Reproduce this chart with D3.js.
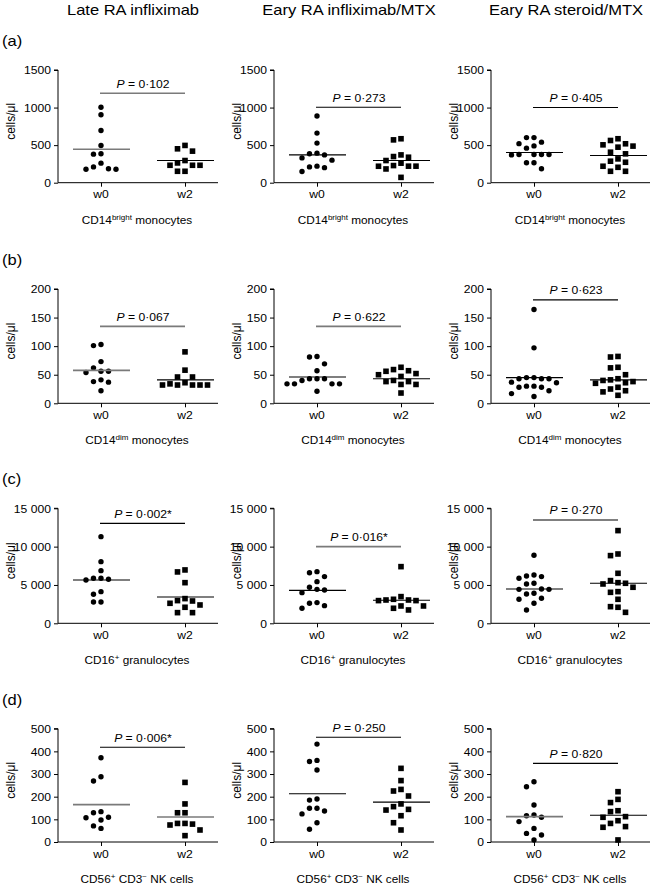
<!DOCTYPE html>
<html><head><meta charset="utf-8">
<script src="https://cdn.jsdelivr.net/npm/d3@7"></script>
<style>
body{margin:0;background:#fff}
svg{display:block}
text{font-family:"Liberation Sans",Arial,Helvetica,sans-serif;fill:#000}
</style>
</head><body>
<svg id="chart" width="650" height="887"></svg>
<script>
// ---------- labels ----------
const columnTitles = ["Late RA infliximab", "Eary RA infliximab/MTX", "Eary RA steroid/MTX"];
const rowLetters = ["(a)", "(b)", "(c)", "(d)"];
const groups = ["w0", "w2"];
const cellTypeLabels = [
  [["CD14", 0], ["bright", 1], [" monocytes", 0]],
  [["CD14", 0], ["dim", 1], [" monocytes", 0]],
  [["CD16", 0], ["+", 1], [" granulocytes", 0]],
  [["CD56", 0], ["+", 1], [" CD3", 0], ["\u2212", 1], [" NK cells", 0]]
];
const yAxisTitle = "cells/\u03bcl";
const yDomainMax = [1500, 200, 15000, 500];
const yTickValues = [[0, 500, 1000, 1500], [0, 50, 100, 150, 200], [0, 5000, 10000, 15000], [0, 100, 200, 300, 400, 500]];
const yTickLabels = [["0", "500", "1000", "1500"], ["0", "50", "100", "150", "200"], ["0", "5 000", "10 000", "15 000"], ["0", "100", "200", "300", "400", "500"]];
const pValueLabels = [
  ["0\u00b7102", "0\u00b7273", "0\u00b7405"],
  ["0\u00b7067", "0\u00b7622", "0\u00b7623"],
  ["0\u00b7002*", "0\u00b7016*", "0\u00b7270"],
  ["0\u00b7006*", "0\u00b7250", "0\u00b7820"]
];
const pBarLevels = [[1190, 1005, 1000], [134.6, 134.6, 181], [13040, 10000, 13480], [418, 462, 347]];

// ---------- data (cells/µl) ----------
const a1w0 = [1005, 905, 695, 495, 385, 380, 260, 180, 180, 185, 210];
const a1w2 = [496, 420, 451, 295, 232, 232, 263, 232, 152, 152];
const a2w0 = [888, 660, 527, 393, 385, 370, 330, 300, 220, 210, 200, 150];
const a2w2 = [585, 570, 370, 348, 339, 295, 260, 228, 220, 219, 183, 220, 71];
const a3w0 = [600, 600, 540, 520, 490, 460, 375, 375, 370, 375, 375, 265, 265, 185];
const a3w2 = [585, 562, 518, 487, 473, 504, 384, 406, 286, 317, 272, 219, 205, 152, 152];
const b1w0 = [103, 101, 73, 62, 56, 54, 56, 38, 37, 41, 22];
const b1w2 = [90, 58, 46, 46, 36, 32, 32, 32, 32, 32, 34];
const b2w0 = [82, 81, 69, 57, 43, 43, 34, 34, 34, 34, 40, 43, 21];
const b2w2 = [63, 59, 57, 56, 52, 50, 47, 40, 38, 38, 33, 33, 18];
const b3w0 = [164, 97, 45, 43, 43, 43, 45, 37, 30, 28, 28, 30, 36, 22, 12, 17];
const b3w2 = [82, 81, 63, 62, 50, 43, 40, 36, 35, 38, 41, 28, 25, 22, 20, 14];
const c1w0 = [11300, 8040, 6870, 5870, 5650, 5740, 5870, 4130, 3780, 2780, 2780];
const c1w2 = [6960, 6700, 5300, 2960, 2610, 2390, 2910, 3220, 2090, 1390, 1390];
const c2w0 = [6600, 6740, 6090, 5430, 4700, 4430, 4350, 4000, 2700, 2610, 2300, 1960];
const c2w2 = [7390, 3480, 2960, 3040, 2960, 3040, 3130, 2260, 1740, 1960, 2260];
const c3w0 = [8870, 6300, 6170, 5870, 6090, 5220, 5130, 4430, 4430, 4480, 3830, 3910, 3130, 3260, 2610, 1740];
const c3w2 = [12090, 9040, 8830, 6520, 5570, 5130, 5220, 5300, 4130, 4040, 4700, 3130, 2170, 2090, 1430];
const d1w0 = [372, 288, 269, 129, 134, 109, 97, 107, 60, 71];
const d1w2 = [263, 168, 129, 129, 82, 75, 82, 79, 53, 28];
const d2w0 = [432, 360, 355, 318, 185, 190, 149, 149, 137, 124, 85, 56];
const d2w2 = [325, 271, 225, 232, 203, 156, 168, 141, 144, 116, 85, 53];
const d3w0 = [266, 244, 163, 119, 109, 116, 90, 60, 38, 31, 9];
const d3w2 = [222, 174, 188, 134, 138, 112, 109, 94, 82, 68, 65, 9];

// group means (horizontal lines)
const meansA = [[446, 295], [370, 295], [402, 362]];
const meansB = [[57.6, 41], [46, 43], [45, 41]];
const meansC = [[5650, 3430], [4300, 3000], [4480, 5220]];
const meansD = [[165, 110], [213, 176], [112, 118]];

const panelData = [
  [[a1w0, a1w2], [a2w0, a2w2], [a3w0, a3w2]],
  [[b1w0, b1w2], [b2w0, b2w2], [b3w0, b3w2]],
  [[c1w0, c1w2], [c2w0, c2w2], [c3w0, c3w2]],
  [[d1w0, d1w2], [d2w0, d2w2], [d3w0, d3w2]]
];
const panelMeans = [meansA, meansB, meansC, meansD];

// ---------- layout / style ----------
const SX = 1.18;                       // horizontal text stretch of the original
const colAxisX = [58, 274, 491];
const rowTop = [70, 289, 508.3, 728.7];
const rowBottom = [182.7, 403.3, 623.3, 842];
const yLabelOffset = [43, 33, 33];
const greyLines = new Set(["0-0-bar", "0-0-w0", "1-0-bar", "1-0-w0", "1-1-bar", "2-1-bar", "3-0-w0", "3-0-w2", "3-2-w0"]);

const svg = d3.select("#chart");

function stext(g, x, y, anchor, size) {
  return g.append("text")
    .attr("transform", `translate(${x},${y}) scale(${SX},1)`)
    .attr("text-anchor", anchor)
    .attr("font-size", size);
}

function swarm(vals, y, d) {
  const order = vals.map((v, i) => i).sort((a, b) => vals[b] - vals[a]);
  const placed = [];
  const offs = new Array(vals.length).fill(0);
  for (const i of order) {
    const yi = y(vals[i]);
    for (let k = 0; k < 60; k++) {
      const off = k === 0 ? 0 : (k % 2 ? -Math.ceil(k / 2) * d : Math.ceil(k / 2) * d);
      if (placed.every(p => (p.x - off) ** 2 + (p.y - yi) ** 2 >= d * d)) {
        offs[i] = off; placed.push({x: off, y: yi}); break;
      }
    }
  }
  return offs;
}

// column titles
columnTitles.forEach((t, c) => {
  const mid = colAxisX[c] + 85 - 10;
  stext(svg, mid, 15, "middle", 14).text(t);
});

rowLetters.forEach((letter, r) => {
  stext(svg, 2, rowTop[r] - 24, "start", 14).text(letter);

  const y = d3.scaleLinear().domain([0, yDomainMax[r]]).range([rowBottom[r], rowTop[r]]);

  for (let c = 0; c < 3; c++) {
    const ax = colAxisX[c];
    const x = d3.scalePoint().domain(groups).range([ax + 43, ax + 127]);
    const g = svg.append("g");

    // y axis
    const yAxis = d3.axisLeft(y).tickValues(yTickValues[r])
      .tickFormat((d, i) => yTickLabels[r][i]).tickSize(4).tickPadding(3);
    const ya = g.append("g").attr("transform", `translate(${ax},0)`).call(yAxis);
    ya.select(".domain").attr("d", `M-4,${rowTop[r]}H0V${rowBottom[r]}`).attr("stroke", "#000");
    ya.selectAll(".tick line").attr("stroke", "#000");
    ya.selectAll(".tick text").each(function () {
      const t = d3.select(this);
      t.attr("font-size", 10.3).attr("font-family", null).attr("fill", "#000")
        .attr("x", null).attr("dy", null)
        .attr("transform", `translate(-7,3.7) scale(${SX},1)`);
    });
    ya.attr("font-family", null).attr("font-size", null);

    // x axis
    const xAxis = d3.axisBottom(x).tickSize(4).tickFormat(() => "");
    const xa = g.append("g").attr("transform", `translate(0,${rowBottom[r]})`).call(xAxis);
    xa.select(".domain").attr("d", `M${ax},0H${ax + 160}`).attr("stroke", "#000");
    xa.selectAll(".tick line").attr("stroke", "#000");
    groups.forEach(gr => stext(g, x(gr), rowBottom[r] + 15.5, "middle", 10.3).text(gr));

    // y axis title
    g.append("text")
      .attr("transform", `translate(${ax - yLabelOffset[c]},${(rowTop[r] + rowBottom[r]) / 2 - 5}) rotate(-90)`)
      .attr("text-anchor", "middle").attr("font-size", 12).text(yAxisTitle);

    // subtitle with superscripts
    const st = stext(g, (x("w0") + x("w2")) / 2 - 6, rowBottom[r] + 41, "middle", 10);
    let raised = false;
    cellTypeLabels[r].forEach(([s, sup]) => {
      const shift = sup ? (raised ? 0 : -4) : (raised ? 4 : 0);
      st.append("tspan").attr("font-size", sup ? 6.8 : 10)
        .attr("dy", shift).text(s);
      raised = !!sup;
    });

    // points
    groups.forEach((gr, gi) => {
      const vals = panelData[r][c][gi];
      const offs = swarm(vals, y, 7.5);
      if (gi === 0) {
        g.selectAll(null).data(vals).join("circle")
          .attr("cx", (d, i) => x(gr) + offs[i]).attr("cy", d => y(d))
          .attr("r", 2.7).attr("fill", "#000");
      } else {
        g.selectAll(null).data(vals).join("rect")
          .attr("x", (d, i) => x(gr) + offs[i] - 2.8).attr("y", d => y(d) - 2.8)
          .attr("width", 5.6).attr("height", 5.6).attr("fill", "#000");
      }
      // mean line
      const m = panelMeans[r][c][gi];
      const grey = greyLines.has(`${r}-${c}-${gr}`);
      g.append("line")
        .attr("x1", x(gr) - 28).attr("x2", x(gr) + 29)
        .attr("y1", y(m)).attr("y2", y(m))
        .attr("stroke", grey ? "#7a7a7a" : "#000").attr("stroke-width", grey ? 1.6 : 1.1);
    });

    // P bar
    const pb = y(pBarLevels[r][c]);
    const greyBar = greyLines.has(`${r}-${c}-bar`);
    g.append("line").attr("x1", x("w0") - 1).attr("x2", x("w2"))
      .attr("y1", pb).attr("y2", pb)
      .attr("stroke", greyBar ? "#7a7a7a" : "#000").attr("stroke-width", greyBar ? 1.6 : 1.1);
    const pt = stext(g, (x("w0") + x("w2")) / 2, pb - 5.5, "middle", 10.3);
    pt.append("tspan").attr("font-style", "italic").text("P");
    pt.append("tspan").text(" = " + pValueLabels[r][c]);
  }
});
</script>
</body></html>
